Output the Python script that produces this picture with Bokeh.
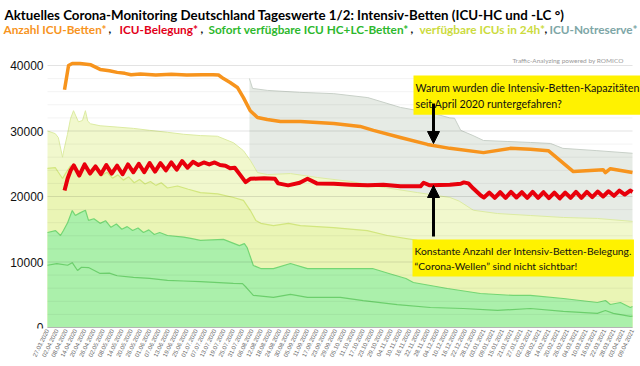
from bokeh.plotting import figure
from bokeh.models import Label, Arrow, NormalHead, FixedTicker, Range1d
from bokeh.core.properties import value
from bokeh.embed import file_html
from bokeh.resources import INLINE

# ---------------- data (days since 27.03.2020) ----------------
date_labels = ["27.03.2020", "02.04.2020", "08.04.2020", "14.04.2020", "20.04.2020", "26.04.2020",
               "02.05.2020", "08.05.2020", "14.05.2020", "20.05.2020", "26.05.2020", "01.06.2020",
               "07.06.2020", "13.06.2020", "19.06.2020", "25.06.2020", "01.07.2020", "07.07.2020",
               "13.07.2020", "19.07.2020", "25.07.2020", "31.07.2020", "06.08.2020", "12.08.2020",
               "18.08.2020", "24.08.2020", "30.08.2020", "05.09.2020", "11.09.2020", "17.09.2020",
               "23.09.2020", "29.09.2020", "05.10.2020", "11.10.2020", "17.10.2020", "23.10.2020",
               "29.10.2020", "04.11.2020", "10.11.2020", "16.11.2020", "22.11.2020", "28.11.2020",
               "04.12.2020", "10.12.2020", "16.12.2020", "22.12.2020", "28.12.2020", "03.01.2021",
               "09.01.2021", "15.01.2021", "21.01.2021", "27.01.2021", "02.02.2021", "08.02.2021",
               "14.02.2021", "20.02.2021", "26.02.2021", "04.03.2021", "10.03.2021", "16.03.2021",
               "22.03.2021", "28.03.2021", "03.04.2021", "09.04.2021"]
tick_days = [6 * i for i in range(len(date_labels))]
y_ticks = [0, 10000, 20000, 30000, 40000]
y_tick_labels = ["0", "10000", "20000", "30000", "40000"]

# Anzahl ICU-Betten (top is cut by the chart's upper edge)
orange_days = [11, 13.6, 16, 21, 28, 34, 40, 45, 50, 54, 60, 70, 80, 90, 100, 107, 110.5, 113.7, 118,
               122.7, 126.6, 131, 135.7, 142, 150.5, 163.4, 185, 202, 210.6, 228, 245.5, 260, 281.7,
               299, 312, 323.6, 339.8, 359, 360.5, 363.7, 378]
orange_vals = [36300, 40000, 40300, 40300, 40100, 39400, 39200, 38950, 38800, 38600, 38700, 38550,
               38650, 38550, 38600, 38600, 38550, 38000, 37400, 36650, 35100, 33100, 32050, 31750,
               31450, 31450, 31150, 30700, 30100, 29000, 27950, 27350, 26700, 27350, 27200, 27000,
               23800, 24100, 23650, 24250, 23650]

# ICU-Belegung
red_days = [11, 13, 15, 17, 20.5, 24, 27.5, 31, 34.5, 38, 41.5, 45, 48.5, 52, 55.5, 59, 62.5, 66, 69.5,
            73, 76.5, 80, 83.5, 87, 90.5, 94, 97.5, 101, 104.5, 108, 111.5, 115, 118, 121, 124.5, 128,
            131, 140, 147, 149, 155.5, 163, 168, 174, 185, 196, 207, 217, 228, 241, 243, 247, 260, 267,
            269, 272, 275, 280, 282, 285.5, 289, 292.5, 296, 299.5, 303, 306.5, 310, 313.5, 317, 320.5,
            324, 327.5, 331, 334.5, 338, 341.5, 345, 348.5, 352, 355.5, 359, 362.5, 366, 369.5, 373,
            376.5, 378]
red_vals = [20900, 22750, 24000, 24750, 23200, 24900, 23500, 24600, 23400, 24800, 23500, 24700, 23400,
            24900, 23700, 25000, 23700, 25100, 23800, 25100, 24000, 25200, 24100, 25400, 24400, 25300,
            24800, 25200, 24900, 25200, 24800, 24700, 24300, 24400, 23300, 22200, 22700, 22800, 22700,
            22000, 21700, 22100, 22700, 22000, 21950, 21800, 21700, 21800, 21550, 21550, 22100, 21700,
            21800, 21950, 22150, 22000, 21250, 20150, 19850, 20600, 19800, 20650, 19800, 20700, 19850,
            20650, 19800, 20700, 19800, 20650, 19750, 20600, 19700, 20600, 19800, 20700, 19800, 20700,
            19900, 20750, 20000, 20800, 20100, 20900, 20300, 20900, 20700]

# ICU-Notreserve (upper edge)
gray_days = [130.5, 132.5, 142, 163, 185, 207, 228, 249, 260, 263, 267, 275, 281.7, 297, 312, 325,
             333, 355, 378]
gray_vals = [38000, 36500, 36200, 35900, 35700, 35100, 33600, 32700, 32000, 31950, 30100, 29300,
             28550, 28400, 28250, 28100, 27350, 27000, 26600]

# verfuegbare ICUs in 24h (outer upper edge)
yel_days = [0, 5, 7, 9.7, 10.5, 12.9, 14.9, 16.8, 20, 22.6, 24.5, 26, 27.8, 34, 45, 55.6, 66, 77.5,
            88, 98.8, 109.8, 120.2, 126.6, 131.1, 135.7, 142.1, 157, 174.4, 195.7, 217, 239, 260, 266,
            275.2, 290.7, 312, 333.3, 355.3, 378]
yel_vals = [30000, 29600, 29000, 26000, 27000, 29500, 31900, 33100, 31400, 31600, 33100, 31500, 31100,
            30800, 30600, 30400, 30100, 29800, 29500, 29300, 29200, 28200, 27000, 25500, 23650, 23350,
            23500, 22900, 22300, 21400, 20600, 19850, 19300, 17900, 17400, 17100, 16800, 16650, 16200]

# inner yellow edge
iy_days = [0, 5, 7, 9.7, 11.6, 14.9, 16.8, 21, 24.5, 28, 31.5, 35, 38.5, 42, 45.5, 49, 52.5, 56, 59.5,
           63, 66.5, 70, 73.5, 77.5, 84, 91, 98.8, 110, 120.2, 126.6, 131.1, 134.6, 137.8, 146, 155.7,
           163.4, 184.8, 206.6, 219.6, 239, 260, 280, 300, 320, 340, 360, 378]
iy_vals = [24300, 24400, 23700, 22750, 23500, 24700, 24200, 23800, 24700, 23600, 24300, 23200, 23700,
           22800, 23300, 22500, 23000, 22100, 22600, 21900, 22300, 21700, 22100, 21300, 21600, 21100,
           20600, 20400, 19850, 19400, 17850, 16350, 15900, 15550, 15900, 15550, 15250, 14800, 14050,
           13300, 12500, 11800, 11000, 10400, 9900, 9500, 9150]

# Sofort verfuegbare ICU HC+LC-Betten
g_days = [0, 5.2, 8.4, 10.3, 13, 16, 18, 21, 24.5, 26.5, 30, 34, 37.5, 41, 44.5, 48, 51.5, 55, 58.5,
          62, 65.5, 69, 72.5, 77.5, 88, 92.6, 98.8, 113.7, 124, 127.2, 129, 133, 137.8, 146, 157, 168,
          189, 210, 220.6, 231.6, 236.4, 258.4, 279.7, 301, 312, 333.3, 355.3, 360.5, 363.7, 370.2,
          376.6, 378]
g_vals = [14500, 14800, 14050, 14800, 16000, 17850, 17100, 17500, 17900, 16350, 16600, 15900, 16300,
          15300, 15800, 15000, 15400, 14800, 15200, 14500, 14900, 14200, 14500, 14050, 13800, 13600,
          13300, 13450, 12500, 12800, 12200, 9470, 9000, 9000, 9770, 9000, 9000, 9000, 8250, 7480,
          6870, 5950, 5190, 4890, 4890, 4430, 3820, 4120, 3510, 3820, 3050, 3200]

# inner green line
dg_days = [0, 6, 13, 16, 19.4, 22, 26.5, 34, 40, 45, 55.6, 66, 77.5, 88, 98.8, 120, 126, 128.5, 133,
           146, 157, 168, 189.2, 204, 226, 247.4, 268.7, 290.7, 312, 333.3, 355.3, 360.5, 365.6,
           376.6, 378]
dg_vals = [9500, 9750, 9500, 9900, 8700, 9200, 9150, 8250, 8300, 7900, 7650, 7500, 7200, 7100, 7000,
           6750, 6700, 6100, 4900, 4600, 5050, 4600, 4600, 4100, 3500, 3050, 2900, 2600, 2900, 2450,
           2150, 2600, 2150, 1700, 1750]

title1 = "Aktuelles Corona-Monitoring Deutschland Tageswerte 1/2: Intensiv-Betten (ICU-HC und -LC °)"
legend_parts = ["Anzahl ICU-Betten*", "ICU-Belegung*", "Sofort verfügbare ICU HC+LC-Betten*",
                "verfügbare ICUs in 24h*", "ICU-Notreserve*"]
legend_colors = ["#F7941D", "#E2001A", "#2DB82D", "#CCDB3E", "#7DA6A6"]
note1 = "Warum wurden die Intensiv-Betten-Kapazitäten\nseit April 2020 runtergefahren?"
note2 = "Konstante Anzahl der Intensiv-Betten-Belegung.\n“Corona-Wellen” sind nicht sichtbar!"
watermark = "Traffic-Analyzing powered by ROMICO"


# ------------- layout helpers: picture pixels -> data units -------------
# the frame covers the canvas (x 0..640, y 0..328); day 0 at x=47, day 378 at x=632,
# value 0 at y=327 and 40000 at y=65
def dx(X):
    return (X - 47) / 585 * 378


def vy(Y):
    return (327 - Y) / 262 * 40000


W, H, B = 640, 366, 38
p = figure(width=W, height=H, output_backend="svg", toolbar_location=None,
           x_range=Range1d(dx(0), dx(W)), y_range=Range1d(vy(H - B), vy(0)),
           min_border_left=0, min_border_right=0, min_border_top=0, min_border_bottom=B)
p.outline_line_color = None
p.background_fill_color = "white"
p.yaxis.visible = False
p.xgrid.visible = False
p.ygrid.visible = False

# areas
p.varea(x=gray_days, y1=0, y2=gray_vals, fill_color="#E6EBE5")
p.line(gray_days, gray_vals, line_color="#C8D0C8", line_width=1)
p.varea(x=yel_days, y1=0, y2=yel_vals, fill_color="#F1F8CD")
p.line(yel_days, yel_vals, line_color="#DCEBA2", line_width=1)
p.varea(x=iy_days, y1=0, y2=iy_vals, fill_color="#EAF5B5")
p.line(iy_days, iy_vals, line_color="#D2E67E", line_width=1.2)
p.varea(x=g_days, y1=0, y2=g_vals, fill_color="#ABF0AB")
p.line(g_days, g_vals, line_color="#74D674", line_width=1.2)
p.line(dg_days, dg_vals, line_color="#6CCF6C", line_width=1.2)

# horizontal grid (major every 10000, minor every 2000), drawn over the areas
minor_vals = [v for v in range(2000, 40001, 2000) if v % 10000]
p.segment(x0=[tick_days[0]] * len(minor_vals), x1=[tick_days[-1]] * len(minor_vals),
          y0=minor_vals, y1=minor_vals, line_color="#000000", line_alpha=0.05, line_width=1)
p.segment(x0=[tick_days[0]] * 4, x1=[tick_days[-1]] * 4, y0=y_ticks[1:], y1=y_ticks[1:],
          line_color="#000000", line_alpha=0.11, line_width=1)

# main lines
p.line(orange_days, orange_vals, line_color="#F7941D", line_width=3.5, line_join="round")
p.line(red_days, red_vals, line_color="#E8000C", line_width=4, line_join="round")

# x axis line
p.line([tick_days[0], tick_days[-1]], [0, 0], line_color="#B5B5B5", line_width=1.2)

# y tick labels
p.text(x=[dx(43)] * len(y_ticks), y=y_ticks, text=y_tick_labels, text_align="right",
       text_baseline="middle", text_font=value("Liberation Sans"), text_font_size="12px",
       text_color="#111111")

# x axis
p.xaxis.ticker = FixedTicker(ticks=tick_days)
p.xaxis.major_label_overrides = {d: lab for d, lab in zip(tick_days, date_labels)}
p.xaxis.major_label_orientation = 1.12
p.xaxis.major_label_text_font_size = "6px"
p.xaxis.major_label_text_color = "#666666"
p.xaxis.major_label_text_font = "Liberation Sans"
p.xaxis.major_label_standoff = 1
p.xaxis.major_tick_out = 0
p.xaxis.major_tick_in = 0
p.xaxis.minor_tick_out = 0
p.xaxis.minor_tick_in = 0
p.xaxis.axis_line_color = None

# titles
p.add_layout(Label(x=dx(4), y=vy(14.5), text=title1, text_font="Lato", text_font_size="13.3px",
                   text_font_style="bold", text_color="#000000", text_baseline="alphabetic"))
legend_x = [3, 119, 208, 419, 549]
comma_x = [108, 200, 410, 544]
for txt, col, lx in zip(legend_parts, legend_colors, legend_x):
    p.add_layout(Label(x=dx(lx), y=vy(28.5), text=txt, text_font="Lato", text_font_size="11.8px",
                       text_font_style="bold", text_color=col, text_baseline="alphabetic"))
for cx in comma_x:
    p.add_layout(Label(x=dx(cx), y=vy(28.5), text=",", text_font="Lato", text_font_size="11.8px",
                       text_font_style="bold", text_color="#111111", text_baseline="alphabetic"))

p.add_layout(Label(x=dx(512), y=vy(59.5), text=watermark, text_font="Lato",
                   text_font_size="6.5px", text_color="#9A9A9A", text_baseline="alphabetic"))

# notes with arrows
p.add_layout(Label(x=dx(413), y=vy(75), text=note1, text_font="Lato", text_font_size="10.7px",
                   text_color="#111111", text_baseline="top", text_line_height=1.25,
                   background_fill_color="#FFF200", padding=(2, 5)))
p.add_layout(Label(x=dx(412), y=vy(239), text=note2, text_font="Lato", text_font_size="10.3px",
                   text_color="#111111", text_baseline="top", text_line_height=1.25,
                   background_fill_color="#FFF200", padding=(2, 5)))
p.add_layout(Arrow(end=NormalHead(size=12, fill_color="black", line_color="black"),
                   x_start=dx(433), y_start=vy(103), x_end=dx(433), y_end=vy(143),
                   line_width=3, line_color="black"))
p.add_layout(Arrow(end=NormalHead(size=12, fill_color="black", line_color="black"),
                   x_start=dx(433), y_start=vy(236), x_end=dx(433), y_end=vy(185),
                   line_width=3, line_color="black"))

open("out.html", "w").write(file_html(p, INLINE))
